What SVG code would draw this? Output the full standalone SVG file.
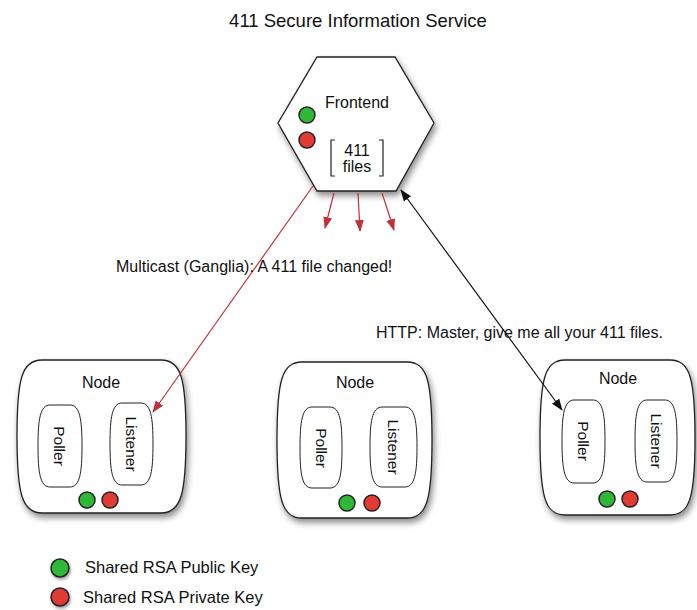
<svg xmlns="http://www.w3.org/2000/svg" width="697" height="610" viewBox="0 0 697 610">
<style>
text{font-family:"Liberation Sans",Arial,sans-serif;font-size:16px;fill:#111}
.shape{fill:#fff;stroke:#222;stroke-width:1.3}
.inner{fill:#fff;stroke:#222;stroke-width:1}
.g{fill:#2fb838;stroke:#222;stroke-width:1.5}
.r{fill:#e23b34;stroke:#222;stroke-width:1.5}
.red{stroke:#c0323a;stroke-width:1.2;fill:none}
.blk{stroke:#111;stroke-width:1.2;fill:none}
.v{font-size:15.5px}
</style>
<defs>
<filter id="sh" x="-20%" y="-20%" width="140%" height="140%">
<feDropShadow dx="2" dy="4" stdDeviation="3" flood-color="#000" flood-opacity="0.45"/>
</filter>
<filter id="sh2" x="-50%" y="-50%" width="200%" height="200%">
<feDropShadow dx="1" dy="2" stdDeviation="1.5" flood-color="#000" flood-opacity="0.4"/>
</filter>
<marker id="ar" viewBox="0 0 12 10" refX="11" refY="5" markerWidth="12" markerHeight="10" markerUnits="userSpaceOnUse" orient="auto-start-reverse">
<path d="M0,0.5 L12,5 L0,9.5 Z" fill="#c0323a"/>
</marker>
<marker id="ab" viewBox="0 0 12 10" refX="11" refY="5" markerWidth="12" markerHeight="10" markerUnits="userSpaceOnUse" orient="auto-start-reverse">
<path d="M0,0.5 L12,5 L0,9.5 Z" fill="#111"/>
</marker>
</defs>
<text x="358" y="27" text-anchor="middle" style="font-size:18.5px">411 Secure Information Service</text>

<g id="frontend">
<polygon class="shape" filter="url(#sh)" points="317,57 395,57 434,123 396,191 317,191 278,123"/>
<text x="357" y="108" text-anchor="middle">Frontend</text>
<circle class="g" cx="307" cy="115" r="8"/>
<circle class="r" cx="307" cy="140" r="8"/>
<path d="M335,140 H331 V176 H335 M379,140 H383 V176 H379" fill="none" stroke="#222" stroke-width="1.2"/>
<text x="357" y="156" text-anchor="middle">411</text>
<text x="357" y="172" text-anchor="middle">files</text>
</g>

<g id="node1">
<path class="shape" filter="url(#sh)" d="M42,360 H161 C181,360 186,378 186,436 C186,494 181,513 161,513 H42 C22,513 17,494 17,436 C17,378 22,360 42,360 Z"/>
<text x="101" y="388" text-anchor="middle">Node</text>
<path class="inner" d="M50,405 H70 C80,405 82,420 82,446 C82,472 80,487 70,487 H50 C40,487 38,472 38,446 C38,420 40,405 50,405 Z"/>
<text class="v" transform="translate(54,446) rotate(90)" text-anchor="middle">Poller</text>
<path class="inner" d="M122,403 H141 C151,403 153,418 153,444 C153,470 151,485 141,485 H122 C112,485 110,470 110,444 C110,418 112,403 122,403 Z"/>
<text class="v" transform="translate(126,444) rotate(90)" text-anchor="middle">Listener</text>
<circle class="g" cx="87" cy="500" r="8"/>
<circle class="r" cx="110" cy="500" r="8"/>
</g>

<g id="node2">
<path class="shape" filter="url(#sh)" d="M302,362 H407 C427,362 432,380 432,440 C432,500 427,518 407,518 H302 C282,518 277,500 277,440 C277,380 282,362 302,362 Z"/>
<text x="355" y="388" text-anchor="middle">Node</text>
<path class="inner" d="M312,407 H330 C340,407 342,422 342,448 C342,474 340,488 330,488 H312 C302,488 300,474 300,448 C300,422 302,407 312,407 Z"/>
<text class="v" transform="translate(316,448) rotate(90)" text-anchor="middle">Poller</text>
<path class="inner" d="M382,407 H405 C415,407 417,422 417,447 C417,472 415,487 405,487 H382 C372,487 370,472 370,447 C370,422 372,407 382,407 Z"/>
<text class="v" transform="translate(388,447) rotate(90)" text-anchor="middle">Listener</text>
<circle class="g" cx="347" cy="503" r="8"/>
<circle class="r" cx="372" cy="503" r="8"/>
</g>

<g id="node3">
<path class="shape" filter="url(#sh)" d="M565,360 H670 C690,360 695,378 695,438 C695,497 690,515 670,515 H565 C545,515 540,497 540,438 C540,378 545,360 565,360 Z"/>
<text x="618" y="384" text-anchor="middle">Node</text>
<path class="inner" d="M574,400 H593 C603,400 605,415 605,441 C605,467 603,483 593,483 H574 C564,483 562,467 562,441 C562,415 564,400 574,400 Z"/>
<text class="v" transform="translate(578,441) rotate(90)" text-anchor="middle">Poller</text>
<path class="inner" d="M647,400 H665 C675,400 677,415 677,441 C677,467 675,482 665,482 H647 C637,482 635,467 635,441 C635,415 637,400 647,400 Z"/>
<text class="v" transform="translate(651,441) rotate(90)" text-anchor="middle">Listener</text>
<circle class="g" cx="607" cy="499" r="8"/>
<circle class="r" cx="630" cy="499" r="8"/>
</g>

<g id="connectors">
<line class="red" x1="334" y1="193" x2="325" y2="228" marker-end="url(#ar)"/>
<line class="red" x1="358" y1="193" x2="360" y2="231" marker-end="url(#ar)"/>
<line class="red" x1="382" y1="193" x2="394" y2="230" marker-end="url(#ar)"/>
<line class="red" x1="313" y1="186" x2="153" y2="412" marker-end="url(#ar)"/>
<line class="blk" x1="562" y1="410" x2="401" y2="190" marker-start="url(#ab)" marker-end="url(#ab)"/>
</g>

<text x="116" y="272">Multicast (Ganglia): A 411 file changed!</text>
<text x="376" y="338">HTTP: Master, give me all your 411 files.</text>

<g id="legend">
<circle class="g" cx="60" cy="568" r="9" filter="url(#sh2)"/>
<text x="85" y="573" style="font-size:16.5px">Shared RSA Public Key</text>
<circle class="r" cx="60" cy="597" r="9" filter="url(#sh2)"/>
<text x="83" y="603" style="font-size:16.5px">Shared RSA Private Key</text>
</g>
</svg>
